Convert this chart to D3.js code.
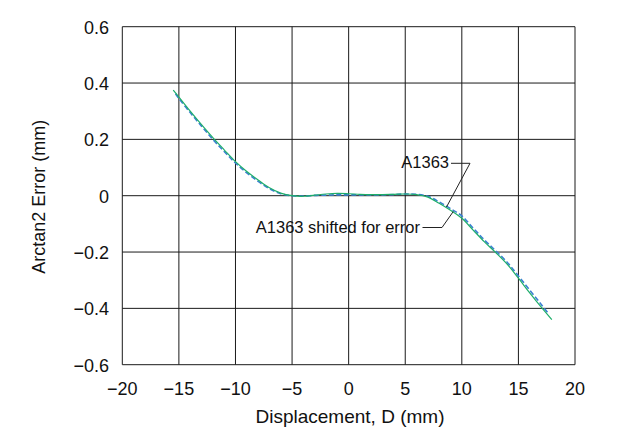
<!DOCTYPE html>
<html>
<head>
<meta charset="utf-8">
<script src="https://cdn.jsdelivr.net/npm/d3@7/dist/d3.min.js"></script>
<style>
  html, body { margin: 0; padding: 0; background: #fff; }
  svg text { font-family: "Liberation Sans", Arial, sans-serif; fill: #111; }
</style>
</head>
<body>
<svg id="chart" width="623" height="442"></svg>
<script>
// ---- data ----
const xTicks = [-20, -15, -10, -5, 0, 5, 10, 15, 20];
const xTickLabels = ["\u221220", "\u221215", "\u221210", "\u22125", "0", "5", "10", "15", "20"];
const yTicks = [0.6, 0.4, 0.2, 0, -0.2, -0.4, -0.6];
const yTickLabels = ["0.6", "0.4", "0.2", "0", "\u22120.2", "\u22120.4", "\u22120.6"];

// A1363 (dashed blue)
const a1363X = [-15.3, -15, -14, -13, -12, -11, -10, -9, -8, -7, -6, -5, -4, -3, -2, -1, 0, 1, 2, 3, 4, 5, 6, 7, 8, 9, 10, 11, 12, 13, 14, 15, 16, 17, 17.7];
const a1363Y = [0.362, 0.345, 0.295, 0.247, 0.200, 0.157, 0.116, 0.081, 0.051, 0.025, 0.007, 0.000, -0.001, 0.001, 0.002, 0.003, 0.003, 0.003, 0.003, 0.003, 0.004, 0.006, 0.005, -0.002, -0.022, -0.046, -0.072, -0.115, -0.157, -0.196, -0.236, -0.285, -0.335, -0.385, -0.421];

// A1363 shifted for error (solid green)
const shiftedX = [-15.5, -15, -14, -13, -12, -11, -10, -9, -8, -7, -6, -5, -4, -3, -2, -1, 0, 1, 2, 3, 4, 5, 6, 7, 8, 9, 10, 11, 12, 13, 14, 15, 16, 17, 17.95];
const shiftedY = [0.375, 0.350, 0.300, 0.252, 0.206, 0.163, 0.121, 0.086, 0.056, 0.028, 0.009, 0.000, -0.002, 0.002, 0.006, 0.008, 0.007, 0.005, 0.004, 0.004, 0.005, 0.006, 0.004, -0.005, -0.027, -0.052, -0.080, -0.122, -0.164, -0.202, -0.243, -0.293, -0.345, -0.395, -0.440];

const seriesNames = ["A1363", "A1363 shifted for error"];

// ---- chart ----
const svg = d3.select("#chart");
const x = d3.scaleLinear().domain([-20, 20]).range([122.3, 575]);
const y = d3.scaleLinear().domain([-0.6, 0.6]).range([364.7, 26.7]);

// grid
const grid = svg.append("g").attr("stroke", "#1a1a1a").attr("stroke-width", 1);
grid.selectAll("line.v").data(xTicks).enter().append("line")
  .attr("x1", d => x(d)).attr("x2", d => x(d))
  .attr("y1", y(0.6)).attr("y2", y(-0.6));
grid.selectAll("line.h").data(yTicks).enter().append("line")
  .attr("x1", x(-20)).attr("x2", x(20))
  .attr("y1", d => y(d)).attr("y2", d => y(d));

// tick labels
svg.append("g").selectAll("text").data(xTicks).enter().append("text")
  .attr("x", d => x(d)).attr("y", 395)
  .attr("text-anchor", "middle").attr("font-size", 18)
  .text((d, i) => xTickLabels[i]);
svg.append("g").selectAll("text").data(yTicks).enter().append("text")
  .attr("x", 109).attr("y", d => y(d) + 7)
  .attr("text-anchor", "end").attr("font-size", 18)
  .text((d, i) => yTickLabels[i]);

// axis titles
svg.append("text").attr("x", 350).attr("y", 423)
  .attr("text-anchor", "middle").attr("font-size", 19)
  .text("Displacement, D (mm)");
svg.append("text")
  .attr("transform", "translate(44.5,196.7) rotate(-90)")
  .attr("text-anchor", "middle").attr("font-size", 18)
  .text("Arctan2 Error (mm)");

// lines
const line = d3.line().x(d => x(d[0])).y(d => y(d[1])).curve(d3.curveCatmullRom.alpha(0.5));
const blueData = a1363X.map((v, i) => [v, a1363Y[i]]);
const greenData = shiftedX.map((v, i) => [v, shiftedY[i]]);

svg.append("path").datum(blueData).attr("d", line)
  .attr("fill", "none").attr("stroke", "#3a80d2").attr("stroke-width", 1.6)
  .attr("stroke-dasharray", "5,2.5");
svg.append("path").datum(greenData).attr("d", line)
  .attr("fill", "none").attr("stroke", "#1eae6a").attr("stroke-width", 1.2);

// annotations
const ann = svg.append("g").attr("fill", "none").attr("stroke", "#222").attr("stroke-width", 1);
ann.append("path").attr("d", d3.line()([[451, 163.3], [470, 163.3], [446.5, 207]]));
ann.append("path").attr("d", d3.line()([[422.5, 227.5], [442, 227.5], [453.3, 211.5]]));
svg.append("text").attr("x", 449).attr("y", 168.3).attr("text-anchor", "end")
  .attr("font-size", 16.5).text(seriesNames[0]);
svg.append("text").attr("x", 420).attr("y", 232.7).attr("text-anchor", "end")
  .attr("font-size", 16.5).text(seriesNames[1]);
</script>
</body>
</html>
